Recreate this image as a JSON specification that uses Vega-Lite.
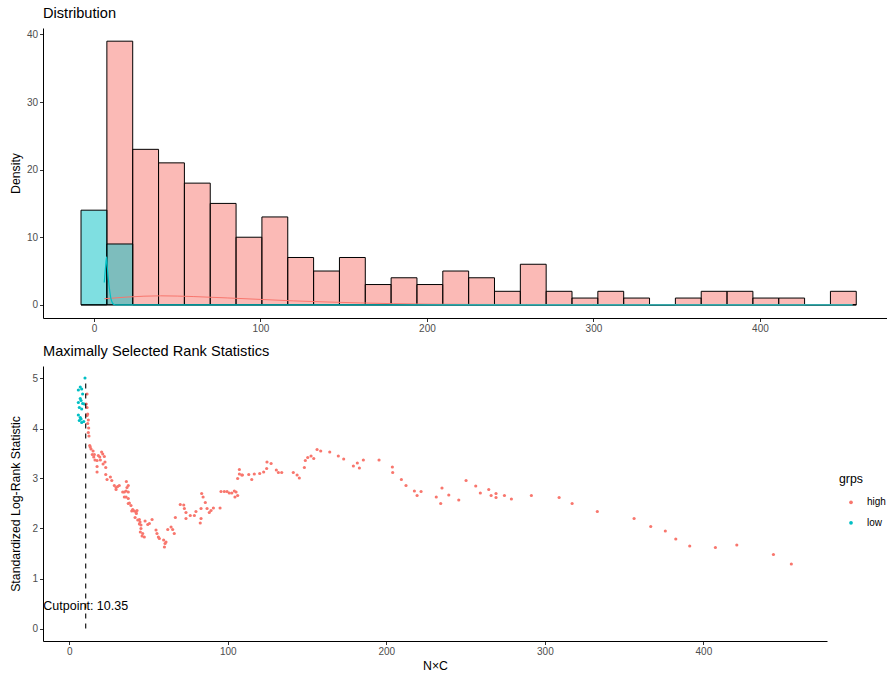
{
  "$schema": "https://vega.github.io/schema/vega-lite/v6.json",
  "padding": {"top": 6, "left": 9, "right": 0, "bottom": 0},
  "spacing": 10,
  "config": {
    "view": {"stroke": null},
    "font": "Liberation Sans",
    "axis": {
      "grid": false,
      "domainColor": "black",
      "domainWidth": 1,
      "tickColor": "#333333",
      "tickWidth": 1,
      "tickSize": 3.5,
      "labelColor": "#4D4D4D",
      "labelFontSize": 10,
      "labelFont": "Liberation Sans",
      "labelPadding": 2,
      "titleFont": "Liberation Sans",
      "titleFontSize": 12.3,
      "titleFontWeight": "normal",
      "titleColor": "black"
    },
    "title": {"font": "Liberation Sans", "fontSize": 14.6, "fontWeight": "normal", "color": "black", "anchor": "start", "frame": "group", "baseline": "alphabetic", "offset": 7},
    "legend": {"titleFont": "Liberation Sans", "labelFont": "Liberation Sans"}
  },
  "resolve": {"scale": {"x": "independent", "y": "independent", "color": "independent"}},
  "datasets": {
    "bins": [
      {"bin_start": -7.76, "bin_end": 7.76, "count": 0, "grps": "high"},
      {"bin_start": 7.76, "bin_end": 23.28, "count": 39, "grps": "high"},
      {"bin_start": 23.28, "bin_end": 38.8, "count": 23, "grps": "high"},
      {"bin_start": 38.8, "bin_end": 54.32, "count": 21, "grps": "high"},
      {"bin_start": 54.32, "bin_end": 69.84, "count": 18, "grps": "high"},
      {"bin_start": 69.84, "bin_end": 85.36, "count": 15, "grps": "high"},
      {"bin_start": 85.36, "bin_end": 100.88, "count": 10, "grps": "high"},
      {"bin_start": 100.88, "bin_end": 116.4, "count": 13, "grps": "high"},
      {"bin_start": 116.4, "bin_end": 131.92, "count": 7, "grps": "high"},
      {"bin_start": 131.92, "bin_end": 147.44, "count": 5, "grps": "high"},
      {"bin_start": 147.44, "bin_end": 162.96, "count": 7, "grps": "high"},
      {"bin_start": 162.96, "bin_end": 178.48, "count": 3, "grps": "high"},
      {"bin_start": 178.48, "bin_end": 194.0, "count": 4, "grps": "high"},
      {"bin_start": 194.0, "bin_end": 209.52, "count": 3, "grps": "high"},
      {"bin_start": 209.52, "bin_end": 225.04, "count": 5, "grps": "high"},
      {"bin_start": 225.04, "bin_end": 240.56, "count": 4, "grps": "high"},
      {"bin_start": 240.56, "bin_end": 256.08, "count": 2, "grps": "high"},
      {"bin_start": 256.08, "bin_end": 271.6, "count": 6, "grps": "high"},
      {"bin_start": 271.6, "bin_end": 287.12, "count": 2, "grps": "high"},
      {"bin_start": 287.12, "bin_end": 302.64, "count": 1, "grps": "high"},
      {"bin_start": 302.64, "bin_end": 318.16, "count": 2, "grps": "high"},
      {"bin_start": 318.16, "bin_end": 333.68, "count": 1, "grps": "high"},
      {"bin_start": 333.68, "bin_end": 349.2, "count": 0, "grps": "high"},
      {"bin_start": 349.2, "bin_end": 364.72, "count": 1, "grps": "high"},
      {"bin_start": 364.72, "bin_end": 380.24, "count": 2, "grps": "high"},
      {"bin_start": 380.24, "bin_end": 395.76, "count": 2, "grps": "high"},
      {"bin_start": 395.76, "bin_end": 411.28, "count": 1, "grps": "high"},
      {"bin_start": 411.28, "bin_end": 426.8, "count": 1, "grps": "high"},
      {"bin_start": 426.8, "bin_end": 442.32, "count": 0, "grps": "high"},
      {"bin_start": 442.32, "bin_end": 457.84, "count": 2, "grps": "high"},
      {"bin_start": -7.76, "bin_end": 7.76, "count": 14, "grps": "low"},
      {"bin_start": 7.76, "bin_end": 23.28, "count": 9, "grps": "low"},
      {"bin_start": 23.28, "bin_end": 38.8, "count": 0, "grps": "low"},
      {"bin_start": 38.8, "bin_end": 54.32, "count": 0, "grps": "low"},
      {"bin_start": 54.32, "bin_end": 69.84, "count": 0, "grps": "low"},
      {"bin_start": 69.84, "bin_end": 85.36, "count": 0, "grps": "low"},
      {"bin_start": 85.36, "bin_end": 100.88, "count": 0, "grps": "low"},
      {"bin_start": 100.88, "bin_end": 116.4, "count": 0, "grps": "low"},
      {"bin_start": 116.4, "bin_end": 131.92, "count": 0, "grps": "low"},
      {"bin_start": 131.92, "bin_end": 147.44, "count": 0, "grps": "low"},
      {"bin_start": 147.44, "bin_end": 162.96, "count": 0, "grps": "low"},
      {"bin_start": 162.96, "bin_end": 178.48, "count": 0, "grps": "low"},
      {"bin_start": 178.48, "bin_end": 194.0, "count": 0, "grps": "low"},
      {"bin_start": 194.0, "bin_end": 209.52, "count": 0, "grps": "low"},
      {"bin_start": 209.52, "bin_end": 225.04, "count": 0, "grps": "low"},
      {"bin_start": 225.04, "bin_end": 240.56, "count": 0, "grps": "low"},
      {"bin_start": 240.56, "bin_end": 256.08, "count": 0, "grps": "low"},
      {"bin_start": 256.08, "bin_end": 271.6, "count": 0, "grps": "low"},
      {"bin_start": 271.6, "bin_end": 287.12, "count": 0, "grps": "low"},
      {"bin_start": 287.12, "bin_end": 302.64, "count": 0, "grps": "low"},
      {"bin_start": 302.64, "bin_end": 318.16, "count": 0, "grps": "low"},
      {"bin_start": 318.16, "bin_end": 333.68, "count": 0, "grps": "low"},
      {"bin_start": 333.68, "bin_end": 349.2, "count": 0, "grps": "low"},
      {"bin_start": 349.2, "bin_end": 364.72, "count": 0, "grps": "low"},
      {"bin_start": 364.72, "bin_end": 380.24, "count": 0, "grps": "low"},
      {"bin_start": 380.24, "bin_end": 395.76, "count": 0, "grps": "low"},
      {"bin_start": 395.76, "bin_end": 411.28, "count": 0, "grps": "low"},
      {"bin_start": 411.28, "bin_end": 426.8, "count": 0, "grps": "low"},
      {"bin_start": 426.8, "bin_end": 442.32, "count": 0, "grps": "low"},
      {"bin_start": 442.32, "bin_end": 457.84, "count": 0, "grps": "low"}
    ],
    "dens": [
      {"x": 6.2, "y": 0.9, "grps": "high"},
      {"x": 20, "y": 1.15, "grps": "high"},
      {"x": 40, "y": 1.33, "grps": "high"},
      {"x": 60, "y": 1.22, "grps": "high"},
      {"x": 80, "y": 1.02, "grps": "high"},
      {"x": 100, "y": 0.8, "grps": "high"},
      {"x": 120, "y": 0.58, "grps": "high"},
      {"x": 140, "y": 0.42, "grps": "high"},
      {"x": 160, "y": 0.28, "grps": "high"},
      {"x": 180, "y": 0.17, "grps": "high"},
      {"x": 200, "y": 0.1, "grps": "high"},
      {"x": 230, "y": 0.06, "grps": "high"},
      {"x": 260, "y": 0.05, "grps": "high"},
      {"x": 300, "y": 0.04, "grps": "high"},
      {"x": 350, "y": 0.03, "grps": "high"},
      {"x": 400, "y": 0.03, "grps": "high"},
      {"x": 455.6, "y": 0.02, "grps": "high"},
      {"x": 6.2, "y": 3.3, "grps": "low"},
      {"x": 6.9, "y": 5.4, "grps": "low"},
      {"x": 7.6, "y": 7.1, "grps": "low"},
      {"x": 8.0, "y": 5.6, "grps": "low"},
      {"x": 9.2, "y": 2.6, "grps": "low"},
      {"x": 10.2, "y": 0.9, "grps": "low"},
      {"x": 11.2, "y": 0.25, "grps": "low"},
      {"x": 12.2, "y": 0.03, "grps": "low"},
      {"x": 13.5, "y": 0, "grps": "low"},
      {"x": 100, "y": 0, "grps": "low"},
      {"x": 300, "y": 0, "grps": "low"},
      {"x": 455.6, "y": 0, "grps": "low"}
    ],
    "stats": [
      {"nc": 9.9, "stat": 5.01, "grps": "low"},
      {"nc": 6.9, "stat": 4.83, "grps": "low"},
      {"nc": 5.7, "stat": 4.77, "grps": "low"},
      {"nc": 7.8, "stat": 4.79, "grps": "low"},
      {"nc": 8.4, "stat": 4.69, "grps": "low"},
      {"nc": 6.9, "stat": 4.6, "grps": "low"},
      {"nc": 5.7, "stat": 4.52, "grps": "low"},
      {"nc": 7.4, "stat": 4.56, "grps": "low"},
      {"nc": 8.4, "stat": 4.5, "grps": "low"},
      {"nc": 9.5, "stat": 4.49, "grps": "low"},
      {"nc": 6.3, "stat": 4.42, "grps": "low"},
      {"nc": 7.8, "stat": 4.39, "grps": "low"},
      {"nc": 5.7, "stat": 4.27, "grps": "low"},
      {"nc": 6.9, "stat": 4.22, "grps": "low"},
      {"nc": 6.3, "stat": 4.16, "grps": "low"},
      {"nc": 7.8, "stat": 4.12, "grps": "low"},
      {"nc": 9.1, "stat": 4.14, "grps": "low"},
      {"nc": 7.4, "stat": 4.19, "grps": "low"},
      {"nc": 10.7, "stat": 4.49, "grps": "high"},
      {"nc": 11.2, "stat": 4.69, "grps": "high"},
      {"nc": 11.2, "stat": 4.42, "grps": "high"},
      {"nc": 11.2, "stat": 4.26, "grps": "high"},
      {"nc": 11.6, "stat": 4.29, "grps": "high"},
      {"nc": 11.6, "stat": 4.1, "grps": "high"},
      {"nc": 12.0, "stat": 4.17, "grps": "high"},
      {"nc": 12.2, "stat": 4.01, "grps": "high"},
      {"nc": 12.0, "stat": 3.92, "grps": "high"},
      {"nc": 12.4, "stat": 3.85, "grps": "high"},
      {"nc": 12.9, "stat": 3.66, "grps": "high"},
      {"nc": 13.2, "stat": 3.63, "grps": "high"},
      {"nc": 13.7, "stat": 3.59, "grps": "high"},
      {"nc": 14.5, "stat": 3.48, "grps": "high"},
      {"nc": 15.0, "stat": 3.55, "grps": "high"},
      {"nc": 15.4, "stat": 3.43, "grps": "high"},
      {"nc": 15.8, "stat": 3.48, "grps": "high"},
      {"nc": 16.2, "stat": 3.37, "grps": "high"},
      {"nc": 17.5, "stat": 3.36, "grps": "high"},
      {"nc": 17.5, "stat": 3.24, "grps": "high"},
      {"nc": 17.5, "stat": 3.13, "grps": "high"},
      {"nc": 18.3, "stat": 3.46, "grps": "high"},
      {"nc": 19.2, "stat": 3.43, "grps": "high"},
      {"nc": 19.6, "stat": 3.37, "grps": "high"},
      {"nc": 20.4, "stat": 3.53, "grps": "high"},
      {"nc": 21.1, "stat": 3.49, "grps": "high"},
      {"nc": 21.3, "stat": 3.29, "grps": "high"},
      {"nc": 22.1, "stat": 3.44, "grps": "high"},
      {"nc": 22.5, "stat": 3.33, "grps": "high"},
      {"nc": 23.0, "stat": 3.22, "grps": "high"},
      {"nc": 23.0, "stat": 3.08, "grps": "high"},
      {"nc": 23.8, "stat": 2.98, "grps": "high"},
      {"nc": 25.9, "stat": 3.03, "grps": "high"},
      {"nc": 26.8, "stat": 2.96, "grps": "high"},
      {"nc": 28.4, "stat": 2.86, "grps": "high"},
      {"nc": 29.5, "stat": 2.82, "grps": "high"},
      {"nc": 29.5, "stat": 2.78, "grps": "high"},
      {"nc": 30.5, "stat": 2.84, "grps": "high"},
      {"nc": 31.5, "stat": 2.86, "grps": "high"},
      {"nc": 33.7, "stat": 2.73, "grps": "high"},
      {"nc": 34.7, "stat": 2.73, "grps": "high"},
      {"nc": 34.7, "stat": 2.63, "grps": "high"},
      {"nc": 35.8, "stat": 2.75, "grps": "high"},
      {"nc": 35.8, "stat": 2.63, "grps": "high"},
      {"nc": 36.0, "stat": 2.94, "grps": "high"},
      {"nc": 36.4, "stat": 2.82, "grps": "high"},
      {"nc": 37.2, "stat": 2.86, "grps": "high"},
      {"nc": 37.2, "stat": 2.73, "grps": "high"},
      {"nc": 37.2, "stat": 2.6, "grps": "high"},
      {"nc": 37.2, "stat": 2.5, "grps": "high"},
      {"nc": 37.9, "stat": 2.51, "grps": "high"},
      {"nc": 38.9, "stat": 2.46, "grps": "high"},
      {"nc": 39.4, "stat": 2.35, "grps": "high"},
      {"nc": 40.0, "stat": 2.38, "grps": "high"},
      {"nc": 41.0, "stat": 2.35, "grps": "high"},
      {"nc": 41.5, "stat": 2.22, "grps": "high"},
      {"nc": 42.1, "stat": 2.33, "grps": "high"},
      {"nc": 42.3, "stat": 2.3, "grps": "high"},
      {"nc": 42.7, "stat": 2.36, "grps": "high"},
      {"nc": 43.2, "stat": 2.17, "grps": "high"},
      {"nc": 44.2, "stat": 2.18, "grps": "high"},
      {"nc": 44.2, "stat": 2.09, "grps": "high"},
      {"nc": 44.6, "stat": 2.13, "grps": "high"},
      {"nc": 44.8, "stat": 1.93, "grps": "high"},
      {"nc": 45.2, "stat": 2.07, "grps": "high"},
      {"nc": 45.2, "stat": 2.0, "grps": "high"},
      {"nc": 45.9, "stat": 1.85, "grps": "high"},
      {"nc": 46.3, "stat": 1.9, "grps": "high"},
      {"nc": 47.3, "stat": 1.83, "grps": "high"},
      {"nc": 47.8, "stat": 2.15, "grps": "high"},
      {"nc": 49.5, "stat": 2.08, "grps": "high"},
      {"nc": 50.5, "stat": 2.1, "grps": "high"},
      {"nc": 52.2, "stat": 2.18, "grps": "high"},
      {"nc": 54.7, "stat": 1.97, "grps": "high"},
      {"nc": 55.3, "stat": 1.9, "grps": "high"},
      {"nc": 56.2, "stat": 1.83, "grps": "high"},
      {"nc": 56.8, "stat": 1.8, "grps": "high"},
      {"nc": 59.5, "stat": 1.77, "grps": "high"},
      {"nc": 60.0, "stat": 1.63, "grps": "high"},
      {"nc": 60.4, "stat": 1.7, "grps": "high"},
      {"nc": 61.0, "stat": 1.73, "grps": "high"},
      {"nc": 62.1, "stat": 1.98, "grps": "high"},
      {"nc": 64.2, "stat": 2.03, "grps": "high"},
      {"nc": 65.2, "stat": 1.98, "grps": "high"},
      {"nc": 66.2, "stat": 1.9, "grps": "high"},
      {"nc": 66.9, "stat": 2.22, "grps": "high"},
      {"nc": 70.0, "stat": 2.48, "grps": "high"},
      {"nc": 72.2, "stat": 2.47, "grps": "high"},
      {"nc": 72.6, "stat": 2.4, "grps": "high"},
      {"nc": 73.6, "stat": 2.2, "grps": "high"},
      {"nc": 73.6, "stat": 2.32, "grps": "high"},
      {"nc": 76.3, "stat": 2.26, "grps": "high"},
      {"nc": 78.9, "stat": 2.26, "grps": "high"},
      {"nc": 79.9, "stat": 2.34, "grps": "high"},
      {"nc": 82.6, "stat": 2.11, "grps": "high"},
      {"nc": 83.1, "stat": 2.2, "grps": "high"},
      {"nc": 83.1, "stat": 2.4, "grps": "high"},
      {"nc": 83.5, "stat": 2.7, "grps": "high"},
      {"nc": 84.4, "stat": 2.63, "grps": "high"},
      {"nc": 85.8, "stat": 2.52, "grps": "high"},
      {"nc": 86.9, "stat": 2.4, "grps": "high"},
      {"nc": 88.3, "stat": 2.32, "grps": "high"},
      {"nc": 89.4, "stat": 2.36, "grps": "high"},
      {"nc": 90.9, "stat": 2.41, "grps": "high"},
      {"nc": 95.1, "stat": 2.41, "grps": "high"},
      {"nc": 95.7, "stat": 2.74, "grps": "high"},
      {"nc": 97.8, "stat": 2.74, "grps": "high"},
      {"nc": 99.5, "stat": 2.74, "grps": "high"},
      {"nc": 100.9, "stat": 2.71, "grps": "high"},
      {"nc": 102.5, "stat": 2.71, "grps": "high"},
      {"nc": 104.1, "stat": 2.75, "grps": "high"},
      {"nc": 104.5, "stat": 2.63, "grps": "high"},
      {"nc": 105.2, "stat": 2.73, "grps": "high"},
      {"nc": 106.2, "stat": 2.66, "grps": "high"},
      {"nc": 106.2, "stat": 3.0, "grps": "high"},
      {"nc": 107.3, "stat": 3.18, "grps": "high"},
      {"nc": 107.3, "stat": 3.09, "grps": "high"},
      {"nc": 108.8, "stat": 3.07, "grps": "high"},
      {"nc": 109.2, "stat": 3.07, "grps": "high"},
      {"nc": 113.2, "stat": 3.08, "grps": "high"},
      {"nc": 115.1, "stat": 2.98, "grps": "high"},
      {"nc": 116.7, "stat": 3.09, "grps": "high"},
      {"nc": 120.1, "stat": 3.1, "grps": "high"},
      {"nc": 122.6, "stat": 3.13, "grps": "high"},
      {"nc": 124.5, "stat": 3.2, "grps": "high"},
      {"nc": 124.7, "stat": 3.33, "grps": "high"},
      {"nc": 127.3, "stat": 3.3, "grps": "high"},
      {"nc": 130.6, "stat": 3.17, "grps": "high"},
      {"nc": 131.9, "stat": 3.12, "grps": "high"},
      {"nc": 134.0, "stat": 3.12, "grps": "high"},
      {"nc": 141.3, "stat": 3.12, "grps": "high"},
      {"nc": 143.7, "stat": 3.07, "grps": "high"},
      {"nc": 145.1, "stat": 3.01, "grps": "high"},
      {"nc": 148.3, "stat": 3.22, "grps": "high"},
      {"nc": 148.9, "stat": 3.36, "grps": "high"},
      {"nc": 150.4, "stat": 3.42, "grps": "high"},
      {"nc": 152.5, "stat": 3.45, "grps": "high"},
      {"nc": 154.2, "stat": 3.4, "grps": "high"},
      {"nc": 156.3, "stat": 3.58, "grps": "high"},
      {"nc": 158.6, "stat": 3.55, "grps": "high"},
      {"nc": 164.3, "stat": 3.53, "grps": "high"},
      {"nc": 169.7, "stat": 3.45, "grps": "high"},
      {"nc": 173.1, "stat": 3.39, "grps": "high"},
      {"nc": 179.2, "stat": 3.25, "grps": "high"},
      {"nc": 181.7, "stat": 3.31, "grps": "high"},
      {"nc": 183.0, "stat": 3.21, "grps": "high"},
      {"nc": 185.5, "stat": 3.37, "grps": "high"},
      {"nc": 195.4, "stat": 3.37, "grps": "high"},
      {"nc": 203.8, "stat": 3.23, "grps": "high"},
      {"nc": 204.0, "stat": 3.12, "grps": "high"},
      {"nc": 209.5, "stat": 2.98, "grps": "high"},
      {"nc": 212.4, "stat": 2.86, "grps": "high"},
      {"nc": 217.7, "stat": 2.75, "grps": "high"},
      {"nc": 219.4, "stat": 2.66, "grps": "high"},
      {"nc": 221.9, "stat": 2.74, "grps": "high"},
      {"nc": 231.5, "stat": 2.63, "grps": "high"},
      {"nc": 234.3, "stat": 2.5, "grps": "high"},
      {"nc": 235.1, "stat": 2.81, "grps": "high"},
      {"nc": 239.4, "stat": 2.67, "grps": "high"},
      {"nc": 245.7, "stat": 2.57, "grps": "high"},
      {"nc": 250.3, "stat": 2.96, "grps": "high"},
      {"nc": 256.4, "stat": 2.85, "grps": "high"},
      {"nc": 259.3, "stat": 2.71, "grps": "high"},
      {"nc": 264.6, "stat": 2.78, "grps": "high"},
      {"nc": 266.1, "stat": 2.66, "grps": "high"},
      {"nc": 269.2, "stat": 2.7, "grps": "high"},
      {"nc": 269.2, "stat": 2.62, "grps": "high"},
      {"nc": 274.5, "stat": 2.66, "grps": "high"},
      {"nc": 278.9, "stat": 2.59, "grps": "high"},
      {"nc": 291.5, "stat": 2.66, "grps": "high"},
      {"nc": 309.0, "stat": 2.62, "grps": "high"},
      {"nc": 317.2, "stat": 2.5, "grps": "high"},
      {"nc": 333.1, "stat": 2.34, "grps": "high"},
      {"nc": 356.3, "stat": 2.2, "grps": "high"},
      {"nc": 366.8, "stat": 2.04, "grps": "high"},
      {"nc": 376.0, "stat": 1.95, "grps": "high"},
      {"nc": 382.6, "stat": 1.79, "grps": "high"},
      {"nc": 391.4, "stat": 1.65, "grps": "high"},
      {"nc": 407.6, "stat": 1.62, "grps": "high"},
      {"nc": 421.1, "stat": 1.67, "grps": "high"},
      {"nc": 444.2, "stat": 1.48, "grps": "high"},
      {"nc": 455.5, "stat": 1.29, "grps": "high"}
    ],
    "cut": [
      {"cutpoint": 10.35, "ymin": 0, "ymax": 4.96, "label_y": 0.46, "label": "Cutpoint: 10.35"}
    ]
  },
  "vconcat": [
    {
      "width": 845,
      "height": 290,
      "title": {"text": "Distribution"},
      "layer": [
        {
          "data": {"name": "bins"},
          "transform": [{"filter": "datum.grps === 'high'"}],
          "mark": {"type": "bar", "fill": "#F8766D", "fillOpacity": 0.5, "stroke": "black", "strokeWidth": 1},
          "encoding": {
            "x": {"field": "bin_start", "type": "quantitative", "scale": {"domain": [-30.6, 476.9], "nice": false, "zero": false}, "axis": {"values": [0, 100, 200, 300, 400], "title": null}},
            "x2": {"field": "bin_end"},
            "y": {"field": "count", "type": "quantitative", "scale": {"domain": [-1.95, 40.95], "nice": false, "zero": false}, "axis": {"values": [0, 10, 20, 30, 40], "title": "Density", "titlePadding": 4}},
            "y2": {"datum": 0}
          }
        },
        {
          "data": {"name": "bins"},
          "transform": [{"filter": "datum.grps === 'low'"}],
          "mark": {"type": "bar", "fill": "#00BFC4", "fillOpacity": 0.5, "stroke": "black", "strokeWidth": 1},
          "encoding": {
            "x": {"field": "bin_start", "type": "quantitative"},
            "x2": {"field": "bin_end"},
            "y": {"field": "count", "type": "quantitative"},
            "y2": {"datum": 0}
          }
        },
        {
          "data": {"name": "dens"},
          "transform": [{"filter": "datum.grps === 'high'"}],
          "mark": {"type": "line", "color": "#F8766D", "strokeWidth": 1, "interpolate": "monotone"},
          "encoding": {
            "x": {"field": "x", "type": "quantitative"},
            "y": {"field": "y", "type": "quantitative"}
          }
        },
        {
          "data": {"name": "dens"},
          "transform": [{"filter": "datum.grps === 'low'"}],
          "mark": {"type": "line", "color": "#00BFC4", "strokeWidth": 1.2, "interpolate": "monotone"},
          "encoding": {
            "x": {"field": "x", "type": "quantitative"},
            "y": {"field": "y", "type": "quantitative"}
          }
        }
      ]
    },
    {
      "width": 784,
      "height": 275,
      "title": {"text": "Maximally Selected Rank Statistics"},
      "layer": [
        {
          "data": {"name": "stats"},
          "mark": {"type": "circle", "size": 10, "opacity": 1},
          "encoding": {
            "x": {"field": "nc", "type": "quantitative", "scale": {"domain": [-16.6, 478], "nice": false, "zero": false}, "axis": {"values": [0, 100, 200, 300, 400], "title": "N×C", "titlePadding": 3}},
            "y": {"field": "stat", "type": "quantitative", "scale": {"domain": [-0.25, 5.25], "nice": false, "zero": false}, "axis": {"values": [0, 1, 2, 3, 4, 5], "title": "Standardized Log-Rank Statistic", "titlePadding": 9.4}},
            "color": {
              "field": "grps", "type": "nominal",
              "scale": {"domain": ["high", "low"], "range": ["#F8766D", "#00BFC4"]},
              "legend": {"title": "grps", "orient": "none", "legendX": 796, "legendY": 107, "symbolType": "circle", "symbolSize": 14, "symbolOffset": 7, "labelOffset": 11, "rowPadding": 10.5, "titlePadding": 12, "titleFontSize": 12.3, "titleFontWeight": "normal", "titleColor": "black", "labelFontSize": 10, "labelColor": "black"}
            }
          }
        },
        {
          "data": {"name": "cut"},
          "mark": {"type": "rule", "color": "black", "strokeWidth": 1.1, "strokeDash": [5, 5]},
          "encoding": {
            "x": {"field": "cutpoint", "type": "quantitative"},
            "y": {"field": "ymin", "type": "quantitative"},
            "y2": {"field": "ymax"}
          }
        },
        {
          "data": {"name": "cut"},
          "mark": {"type": "text", "fontSize": 12.5, "color": "black", "align": "center", "baseline": "middle"},
          "encoding": {
            "x": {"field": "cutpoint", "type": "quantitative"},
            "y": {"field": "label_y", "type": "quantitative"},
            "text": {"field": "label"}
          }
        }
      ]
    }
  ]
}
